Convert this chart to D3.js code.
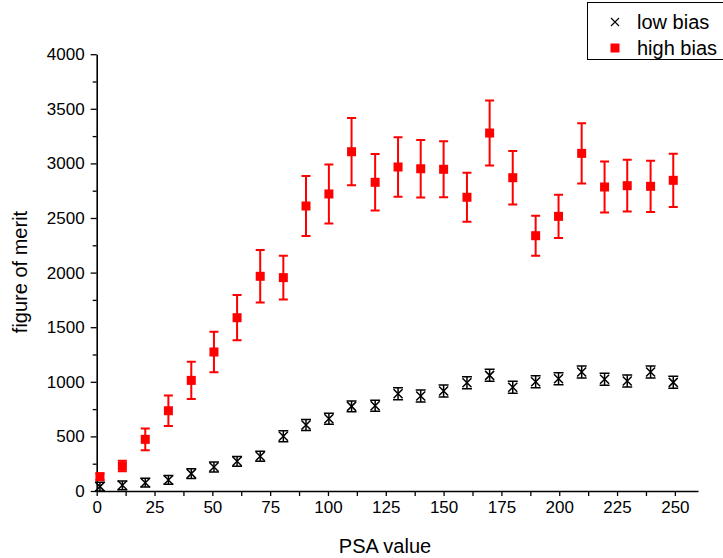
<!DOCTYPE html>
<html><head><meta charset="utf-8">
<script src="https://cdn.jsdelivr.net/npm/d3@7"></script>
<style>body{margin:0;background:#fff}svg{display:block}text{font-family:"Liberation Sans",Arial,sans-serif}</style>
</head><body><svg id="c" width="723" height="558"></svg>
<script>
const psa = [1.4, 11.1, 21.0, 31.0, 40.9, 50.7, 60.7, 70.7, 80.7, 90.5, 100.4, 110.2, 120.4, 130.3, 140.1, 150.0, 160.1, 169.9, 179.9, 189.8, 199.7, 209.7, 219.6, 229.4, 239.5, 249.3];
const lowBias = [40, 52, 76, 101, 159, 220, 272, 318, 501, 604, 662, 775, 781, 891, 870, 916, 992, 1059, 950, 1001, 1028, 1090, 1023, 1007, 1090, 995];
const lowErr = [40, 40, 40, 40, 45, 45, 45, 45, 50, 50, 50, 50, 50, 55, 55, 55, 55, 55, 55, 55, 55, 55, 55, 55, 55, 55];
const highBias = [131, 229, 473, 735, 1013, 1273, 1587, 1966, 1954, 2610, 2720, 3107, 2827, 2967, 2951, 2946, 2690, 3278, 2869, 2338, 2515, 3092, 2784, 2796, 2790, 2845];
const highErr = [30, 48, 100, 140, 170, 185, 207, 240, 200, 275, 270, 308, 258, 272, 264, 257, 225, 298, 245, 183, 198, 276, 234, 237, 235, 244];
const xTicks = [0, 25, 50, 75, 100, 125, 150, 175, 200, 225, 250];
const yTicks = [0, 500, 1000, 1500, 2000, 2500, 3000, 3500, 4000];
const seriesNames = ["low bias", "high bias"];

const svg = d3.select("#c");
const x = d3.scaleLinear().domain([0, 260]).range([96.7, 698]);
const y = d3.scaleLinear().domain([0, 4000]).range([491, 54.2]);

const xMinor = d3.range(12.5, 260, 25);
const yMinor = d3.range(250, 4000, 500);

const gx = svg.append("g").attr("transform", `translate(0,${y(0)})`);
gx.call(d3.axisBottom(x).tickValues(xTicks).tickFormat(d3.format("d")).tickSize(5).tickSizeOuter(0).tickPadding(5));
gx.append("g").call(d3.axisBottom(x).tickValues(xMinor).tickFormat("").tickSize(5).tickSizeOuter(0))
  .select(".domain").remove();
const gy = svg.append("g").attr("transform", `translate(${x(0)},0)`);
gy.call(d3.axisLeft(y).tickValues(yTicks).tickFormat(d3.format("d")).tickSize(6).tickSizeOuter(0).tickPadding(6));
gy.append("g").call(d3.axisLeft(y).tickValues(yMinor).tickFormat("").tickSize(4).tickSizeOuter(0))
  .select(".domain").remove();
svg.selectAll(".domain").attr("stroke-width", 1.6);
svg.selectAll(".tick line").attr("stroke-width", 1.3);
svg.selectAll(".tick text").attr("font-size", 17).attr("fill", "#000").attr("font-family", "Liberation Sans, Arial, sans-serif");

svg.append("text").attr("x", 385).attr("y", 553).attr("text-anchor", "middle").attr("font-size", 20).text("PSA value");
svg.append("text").attr("transform", "translate(27,272) rotate(-90)").attr("text-anchor", "middle").attr("font-size", 20).text("figure of merit");

const lowData = psa.map((p, i) => ({x: p, v: lowBias[i], e: lowErr[i]}));
const highData = psa.map((p, i) => ({x: p, v: highBias[i], e: highErr[i]}));

const gl = svg.append("g").attr("stroke", "#000").attr("stroke-width", 1.5).attr("fill", "none");
lowData.forEach(d => {
  const cx = x(d.x), t = y(d.v + d.e), b = y(d.v - d.e), cy = y(d.v);
  gl.append("path").attr("d", `M${cx},${t}V${b}M${cx-5},${t}H${cx+5}M${cx-5},${b}H${cx+5}`);
  gl.append("path").attr("d", `M${cx-4.5},${cy-4.5}L${cx+4.5},${cy+4.5}M${cx-4.5},${cy+4.5}L${cx+4.5},${cy-4.5}`);
});

const gh = svg.append("g");
gh.selectAll("path.err").data(highData).join("path")
  .attr("fill", "none").attr("stroke", "#ff0000").attr("stroke-width", 2)
  .attr("d", d => { const cx = x(d.x), t = y(d.v + d.e), b = y(d.v - d.e);
    return `M${cx},${t}V${b}M${cx-4.5},${t}H${cx+4.5}M${cx-4.5},${b}H${cx+4.5}`; });
gh.selectAll("rect").data(highData).join("rect")
  .attr("x", d => x(d.x) - 4.5).attr("y", d => y(d.v) - 4.5).attr("width", 9).attr("height", 9)
  .attr("fill", "#ff0000");

const lg = svg.append("g");
lg.append("rect").attr("x", 587.5).attr("y", 2.5).attr("width", 150).attr("height", 57).attr("fill", "#fff").attr("stroke", "#000").attr("stroke-width", 1);
lg.append("path").attr("d", "M611,18L619,26M611,26L619,18").attr("stroke", "#000").attr("stroke-width", 1.1);
lg.append("rect").attr("x", 610.5).attr("y", 43.5).attr("width", 9).attr("height", 9).attr("fill", "#ff0000");
lg.append("text").attr("x", 637).attr("y", 29).attr("font-size", 20).text(seriesNames[0]);
lg.append("text").attr("x", 637).attr("y", 55).attr("font-size", 20).text(seriesNames[1]);
</script></body></html>
